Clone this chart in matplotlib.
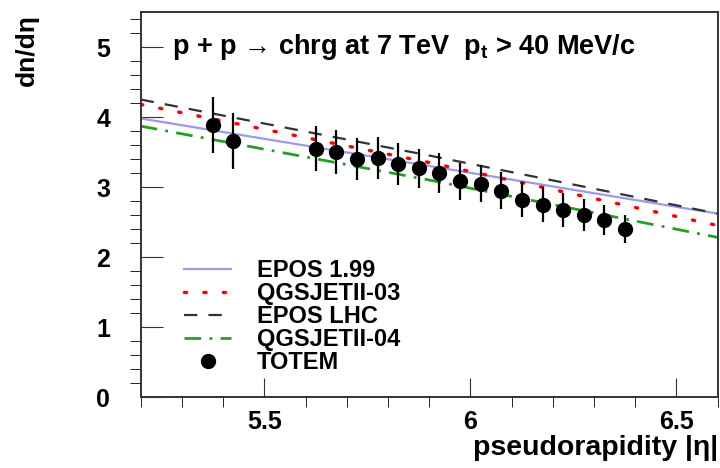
import matplotlib.pyplot as plt
from matplotlib.ticker import MultipleLocator

plt.rcParams['font.family'] = ['Liberation Sans', 'DejaVu Sans']
plt.rcParams['font.weight'] = 'bold'
plt.rcParams['mathtext.default'] = 'regular'

# TOTEM measurement
eta = [5.375, 5.425, 5.625, 5.675, 5.725, 5.775, 5.825, 5.875, 5.925,
       5.975, 6.025, 6.075, 6.125, 6.175, 6.225, 6.275, 6.325, 6.375]
dndeta = [3.88, 3.66, 3.55, 3.50, 3.40, 3.42, 3.33, 3.27, 3.20,
          3.08, 3.05, 2.95, 2.82, 2.75, 2.67, 2.60, 2.53, 2.40]
err = [0.40, 0.40, 0.32, 0.32, 0.30, 0.30, 0.30, 0.28, 0.28,
       0.27, 0.27, 0.26, 0.25, 0.25, 0.24, 0.23, 0.22, 0.20]

# model predictions
eta_mc = [5.2, 5.9, 6.6]
epos199 = [3.98, 3.30, 2.62]
qgs03 = [4.18, 3.35, 2.45]
eposlhc = [4.25, 3.45, 2.62]
qgs04 = [3.87, 3.10, 2.28]

fig = plt.figure(figsize=(7.2, 4.68), dpi=100)
ax = fig.add_axes([0.1954, 0.1517, 0.8014, 0.8226])

ax.plot(eta_mc, epos199, color='#9a9aee', lw=1.6, label='EPOS 1.99')
ax.plot(eta_mc, qgs03, color='red', lw=2.5, linestyle=(0, (0.6, 5)),
        dash_capstyle='round', label='QGSJETII-03')
ax.plot(eta_mc, eposlhc, color='#333333', lw=1.6, linestyle=(0, (6, 5)),
        label='EPOS LHC')
ax.plot(eta_mc, qgs04, color='#22a022', lw=2, linestyle=(0, (6, 3, 1, 3)),
        label='QGSJETII-04')
ax.errorbar(eta, dndeta, yerr=err, fmt='none', ecolor='black',
            elinewidth=1.6, capsize=0)
ax.plot(eta, dndeta, 'o', color='black', ms=10, label='TOTEM')

ax.set_xlim(5.2, 6.6)
ax.set_ylim(0, 5.5)
ax.xaxis.set_minor_locator(MultipleLocator(0.1))
ax.yaxis.set_major_locator(MultipleLocator(1))
ax.yaxis.set_minor_locator(MultipleLocator(0.2))
ax.set_xticks([5.5, 6, 6.5])
ax.set_xticklabels(['5.5', '6', '6.5'])
ax.tick_params(direction='in', labelsize=18, top=False, right=False,
               color='#333333')
ax.tick_params(axis='x', which='major', length=14, pad=9)
ax.tick_params(axis='x', which='minor', length=7)
ax.tick_params(axis='y', which='major', length=16, pad=22)
ax.tick_params(axis='y', which='minor', length=8)
for s in ax.spines.values():
    s.set_linewidth(1.4)
    s.set_color('#333333')

ax.text(0.054, 0.909, 'p + p → chrg at 7 TeV  p$_t$ > 40 MeV/c',
        transform=ax.transAxes, fontsize=19.5, va='center')

fig.text(0.038, 0.97, 'dn/dη', rotation=90, fontsize=19, ha='center', va='top')
fig.text(0.997, 0.015, 'pseudorapidity |η|', fontsize=20.5, ha='right', va='bottom')

ax.legend(loc='lower left', bbox_to_anchor=(0.075, 0.06), frameon=False,
          fontsize=17, handlelength=2.0, labelspacing=0.0, handletextpad=1.1,
          borderpad=0, borderaxespad=0)

fig.savefig('out.png', dpi=100)
